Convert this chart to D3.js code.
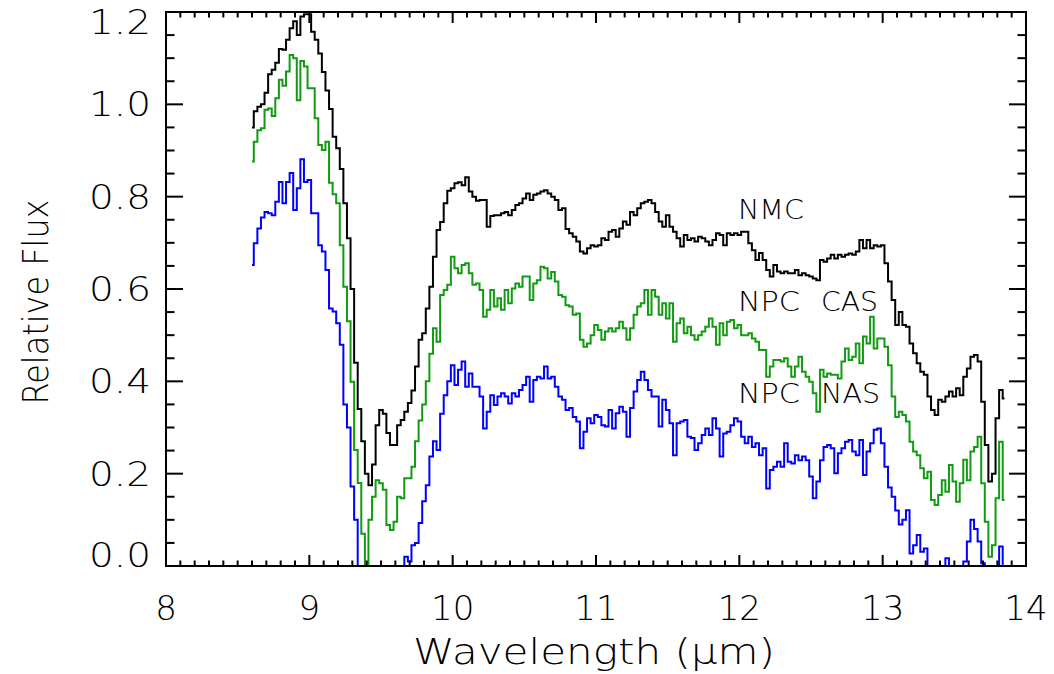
<!DOCTYPE html>
<html>
<head>
<meta charset="utf-8">
<script src="https://cdn.jsdelivr.net/npm/d3@7"></script>
<style>
  html, body { margin: 0; padding: 0; background: #fff; }
  svg { display: block; }
  text { font-family: "DejaVu Sans", sans-serif; font-weight: 200; fill: #000; }
</style>
</head>
<body>
<svg id="chart" width="1054" height="674"></svg>
<script>
// Spectral grid: bin centres from 8.600 to 13.850 micron in 0.025 micron steps
const waveStart = 8.6;
const waveStep = 0.025;

// NMC spectrum (relative flux)
const nmc = [
  0.950, 0.985, 0.995, 1.000, 1.025, 1.065, 1.075, 1.090, 1.120, 1.118,
  1.140, 1.165, 1.180, 1.150, 1.190, 1.195, 1.195, 1.157, 1.140, 1.110,
  1.070, 1.030, 0.990, 0.930, 0.905, 0.860, 0.786, 0.710, 0.600, 0.440,
  0.340, 0.270, 0.200, 0.175, 0.220, 0.305, 0.338, 0.330, 0.288, 0.262,
  0.262, 0.305, 0.316, 0.334, 0.353, 0.380, 0.432, 0.490, 0.504, 0.558,
  0.605, 0.670, 0.728, 0.745, 0.786, 0.813, 0.818, 0.829, 0.831, 0.825,
  0.842, 0.811, 0.800, 0.791, 0.793, 0.793, 0.735, 0.758, 0.760, 0.760,
  0.764, 0.767, 0.760, 0.771, 0.782, 0.786, 0.796, 0.807, 0.793, 0.804,
  0.807, 0.811, 0.814, 0.807, 0.800, 0.793, 0.771, 0.775, 0.730, 0.721,
  0.713, 0.703, 0.681, 0.677, 0.688, 0.695, 0.692, 0.695, 0.710, 0.706,
  0.724, 0.728, 0.713, 0.731, 0.746, 0.739, 0.767, 0.760, 0.775, 0.786,
  0.789, 0.793, 0.786, 0.767, 0.746, 0.735, 0.760, 0.735, 0.724, 0.710,
  0.692, 0.717, 0.706, 0.710, 0.703, 0.713, 0.710, 0.703, 0.695, 0.706,
  0.721, 0.717, 0.695, 0.721, 0.717, 0.721, 0.717, 0.724, 0.724, 0.699,
  0.684, 0.663, 0.678, 0.663, 0.641, 0.627, 0.652, 0.638, 0.634, 0.638,
  0.634, 0.634, 0.641, 0.630, 0.634, 0.630, 0.627, 0.623, 0.619, 0.663,
  0.659, 0.666, 0.674, 0.666, 0.674, 0.670, 0.674, 0.677, 0.674, 0.681,
  0.706, 0.688, 0.706, 0.688, 0.695, 0.692, 0.695, 0.656, 0.616, 0.576,
  0.522, 0.550, 0.522, 0.518, 0.482, 0.461, 0.439, 0.421, 0.414, 0.367,
  0.338, 0.327, 0.360, 0.356, 0.367, 0.378, 0.367, 0.385, 0.370, 0.410,
  0.428, 0.453, 0.457, 0.443, 0.356, 0.262, 0.183, 0.200, 0.320, 0.381,
  0.363
];

// NPC CAS spectrum (relative flux)
const npcCas = [
  0.876, 0.919, 0.944, 0.948, 0.988, 0.991, 0.975, 1.013, 1.053, 1.040,
  1.071, 1.107, 1.100, 1.009, 1.094, 1.082, 1.035, 1.035, 0.970, 0.912,
  0.901, 0.919, 0.830, 0.805, 0.786, 0.695, 0.605, 0.530, 0.399, 0.251,
  0.180, 0.070, 0.000, 0.100, 0.150, 0.186, 0.179, 0.165, 0.089, 0.078,
  0.096, 0.150, 0.147, 0.190, 0.190, 0.215, 0.270, 0.315, 0.350, 0.400,
  0.460, 0.515, 0.486, 0.587, 0.598, 0.609, 0.670, 0.645, 0.634, 0.652,
  0.656, 0.634, 0.609, 0.612, 0.598, 0.540, 0.555, 0.598, 0.562, 0.580,
  0.555, 0.598, 0.569, 0.601, 0.612, 0.605, 0.627, 0.627, 0.576, 0.612,
  0.619, 0.648, 0.645, 0.623, 0.637, 0.616, 0.587, 0.583, 0.565, 0.562,
  0.544, 0.547, 0.490, 0.475, 0.482, 0.500, 0.522, 0.511, 0.490, 0.508,
  0.515, 0.508, 0.515, 0.529, 0.515, 0.490, 0.515, 0.544, 0.562, 0.569,
  0.598, 0.544, 0.598, 0.583, 0.544, 0.569, 0.536, 0.569, 0.486, 0.526,
  0.536, 0.504, 0.518, 0.500, 0.490, 0.500, 0.508, 0.518, 0.536, 0.518,
  0.479, 0.526, 0.500, 0.529, 0.533, 0.515, 0.522, 0.500, 0.500, 0.504,
  0.493, 0.486, 0.468, 0.468, 0.410, 0.432, 0.446, 0.446, 0.443, 0.450,
  0.432, 0.410, 0.432, 0.453, 0.421, 0.410, 0.399, 0.374, 0.334, 0.425,
  0.410, 0.417, 0.414, 0.414, 0.406, 0.443, 0.471, 0.446, 0.453, 0.482,
  0.439, 0.497, 0.482, 0.540, 0.471, 0.493, 0.493, 0.475, 0.435, 0.367,
  0.323, 0.334, 0.327, 0.313, 0.269, 0.248, 0.240, 0.212, 0.190, 0.204,
  0.143, 0.132, 0.154, 0.186, 0.161, 0.219, 0.183, 0.139, 0.179, 0.230,
  0.186, 0.248, 0.258, 0.280, 0.179, 0.096, 0.020, 0.045, 0.147, 0.269,
  0.143
];

// NPC NAS spectrum (relative flux)
const npcNas = [
  0.652, 0.699, 0.731, 0.755, 0.767, 0.764, 0.760, 0.789, 0.832, 0.786,
  0.832, 0.851, 0.771, 0.818, 0.881, 0.832, 0.836, 0.764, 0.764, 0.695,
  0.681, 0.641, 0.558, 0.551, 0.526, 0.479, 0.350, 0.300, 0.172, 0.100,
  0.000, 0.000, 0.000, 0.000, 0.000, 0.000, 0.000, 0.000, 0.000, 0.000,
  0.000, 0.000, 0.000, 0.020, 0.010, 0.045, 0.050, 0.093, 0.140, 0.175,
  0.237, 0.270, 0.251, 0.330, 0.370, 0.400, 0.435, 0.392, 0.425, 0.443,
  0.388, 0.417, 0.388, 0.388, 0.367, 0.298, 0.334, 0.370, 0.349, 0.367,
  0.374, 0.367, 0.352, 0.374, 0.367, 0.381, 0.392, 0.410, 0.356, 0.403,
  0.410, 0.406, 0.432, 0.406, 0.410, 0.388, 0.367, 0.360, 0.338, 0.342,
  0.323, 0.313, 0.255, 0.291, 0.320, 0.309, 0.327, 0.323, 0.305, 0.302,
  0.338, 0.298, 0.331, 0.345, 0.334, 0.280, 0.342, 0.378, 0.403, 0.421,
  0.403, 0.381, 0.367, 0.367, 0.302, 0.360, 0.338, 0.309, 0.240, 0.309,
  0.313, 0.316, 0.280, 0.277, 0.251, 0.266, 0.284, 0.298, 0.284, 0.320,
  0.298, 0.237, 0.287, 0.291, 0.305, 0.320, 0.313, 0.280, 0.266, 0.280,
  0.258, 0.266, 0.240, 0.255, 0.168, 0.208, 0.215, 0.226, 0.215, 0.266,
  0.226, 0.222, 0.240, 0.229, 0.237, 0.229, 0.194, 0.147, 0.183, 0.229,
  0.258, 0.262, 0.255, 0.201, 0.244, 0.255, 0.269, 0.273, 0.248, 0.240,
  0.273, 0.197, 0.248, 0.266, 0.295, 0.298, 0.266, 0.215, 0.170, 0.150,
  0.120, 0.090, 0.100, 0.121, 0.027, 0.045, 0.067, 0.031, 0.038, 0.000,
  0.000, 0.000, 0.000, 0.000, 0.017, 0.000, 0.000, 0.000, 0.000, 0.010,
  0.053, 0.100, 0.080, 0.053, 0.006, 0.000, 0.000, 0.000, 0.000, 0.042,
  0.000
];

const seriesList = [
  { name: "NMC", values: nmc, color: "#000000" },
  { name: "NPC CAS", values: npcCas, color: "#129a12" },
  { name: "NPC NAS", values: npcNas, color: "#0000ff" }
];

// Axis settings
const xDomain = [8, 14];
const yDomain = [0, 1.2];
const xMajorTicks = [8, 9, 10, 11, 12, 13, 14];
const yMajorTicks = [0.0, 0.2, 0.4, 0.6, 0.8, 1.0, 1.2];
const xTitle = "Wavelength (\u03bcm)";
const yTitle = "Relative Flux";

// Curve labels: text, anchor wavelength, anchor flux, set width in px
const curveLabels = [
  { text: "NMC", x: 11.99, y: 0.751, w: 66 },
  { text: "NPC", x: 11.99, y: 0.552, w: 62 },
  { text: "CAS", x: 12.57, y: 0.552, w: 57 },
  { text: "NPC", x: 11.99, y: 0.353, w: 62 },
  { text: "NAS", x: 12.57, y: 0.353, w: 59 }
];

const svg = d3.select("#chart");
const plot = { left: 166, right: 1026, top: 12, bottom: 566 };

const x = d3.scaleLinear().domain(xDomain).range([plot.left, plot.right]);
const y = d3.scaleLinear().domain(yDomain).range([plot.bottom, plot.top]);

svg.append("defs").append("clipPath").attr("id", "plot-clip")
  .append("rect")
  .attr("x", plot.left).attr("y", plot.top)
  .attr("width", plot.right - plot.left).attr("height", plot.bottom - plot.top);

// Spectra as histogram-style step lines
const line = d3.line()
  .x((d, i) => x(waveStart + i * waveStep))
  .y(d => y(d))
  .curve(d3.curveStep);

const spectra = svg.append("g").attr("clip-path", "url(#plot-clip)");
seriesList.forEach(s => {
  spectra.append("path")
    .datum(s.values)
    .attr("fill", "none")
    .attr("stroke", s.color)
    .attr("stroke-width", 2)
    .attr("stroke-linejoin", "miter")
    .attr("d", line);
});

// Frame with ticks on all four sides
const frame = svg.append("g");
const xMinor = d3.range(80, 141).map(v => v / 10);
const yMinor = d3.range(0, 25).map(v => v * 0.05);
const xTickLen = 11, yTickLen = 17;

function isMajor(v, list) { return list.some(t => Math.abs(t - v) < 1e-6); }

const tickG = frame.append("g").attr("stroke", "#000").attr("stroke-width", 2);
xMinor.forEach(v => {
  const len = isMajor(v, xMajorTicks) ? xTickLen : xTickLen / 2;
  tickG.append("line").attr("x1", x(v)).attr("x2", x(v))
    .attr("y1", plot.bottom).attr("y2", plot.bottom - len);
  tickG.append("line").attr("x1", x(v)).attr("x2", x(v))
    .attr("y1", plot.top).attr("y2", plot.top + len);
});
yMinor.forEach(v => {
  const len = isMajor(v, yMajorTicks) ? yTickLen : yTickLen / 2;
  tickG.append("line").attr("y1", y(v)).attr("y2", y(v))
    .attr("x1", plot.left).attr("x2", plot.left + len);
  tickG.append("line").attr("y1", y(v)).attr("y2", y(v))
    .attr("x1", plot.right).attr("x2", plot.right - len);
});

frame.append("rect")
  .attr("x", plot.left).attr("y", plot.top)
  .attr("width", plot.right - plot.left).attr("height", plot.bottom - plot.top)
  .attr("fill", "none").attr("stroke", "#000").attr("stroke-width", 2);

// Tick labels
const labelFont = 34;
svg.append("g").selectAll("text").data(xMajorTicks).join("text")
  .attr("x", d => x(d)).attr("y", 620)
  .attr("text-anchor", "middle")
  .attr("font-size", labelFont)
  .text(d => d3.format("d")(d));

// End labels sit inside the frame height, the rest are centred on their ticks
const yLabelShift = v => (v === yDomain[1] ? 10 : v === yDomain[0] ? -11 : 0);
svg.append("g").selectAll("text").data(yMajorTicks).join("text")
  .attr("x", 151)
  .attr("y", d => y(d) + 12 + yLabelShift(d))
  .attr("text-anchor", "end")
  .attr("font-size", labelFont)
  .attr("textLength", 62)
  .attr("lengthAdjust", "spacingAndGlyphs")
  .text(d => d3.format(".1f")(d));

// Axis titles
svg.append("text")
  .attr("x", 594).attr("y", 664)
  .attr("text-anchor", "middle")
  .attr("font-size", 35)
  .attr("textLength", 362)
  .attr("lengthAdjust", "spacingAndGlyphs")
  .text(xTitle);

svg.append("text")
  .attr("transform", `translate(48,302) rotate(-90)`)
  .attr("text-anchor", "middle")
  .attr("font-size", 35)
  .attr("textLength", 205)
  .attr("lengthAdjust", "spacingAndGlyphs")
  .text(yTitle);

// Curve labels
svg.append("g").selectAll("text").data(curveLabels).join("text")
  .attr("x", d => x(d.x)).attr("y", d => y(d.y))
  .attr("font-size", 27)
  .attr("textLength", d => d.w)
  .attr("lengthAdjust", "spacingAndGlyphs")
  .text(d => d.text);
</script>
</body>
</html>
